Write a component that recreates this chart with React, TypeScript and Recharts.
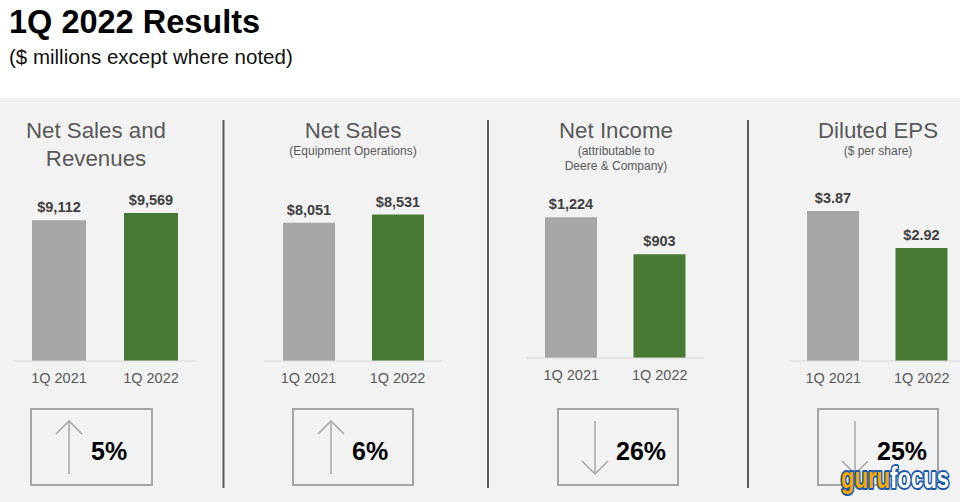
import React from 'react';
import { BarChart, Bar, XAxis, YAxis, Cell, LabelList } from 'recharts';

const periods = ['1Q 2021', '1Q 2022'];
const netSalesAndRevenues = [9112, 9569];
const netSalesEquipment = [8051, 8531];
const netIncome = [1224, 903];
const dilutedEps = [3.87, 2.92];
const changePct = ['5%', '6%', '26%', '25%'];
const changeDirection = ['up', 'up', 'down', 'down'];
const panelTitles = [['Net Sales and', 'Revenues'], ['Net Sales'], ['Net Income'], ['Diluted EPS']];
const panelSubtitles = [[], ['(Equipment Operations)'], ['(attributable to', 'Deere & Company)'], ['($ per share)']];

const FONT = '"Liberation Sans", Arial, Helvetica, sans-serif';
const GRAY = '#a6a6a6';
const GREEN = '#487a34';

type PanelCfg = {
  values: number[];
  fmt: (v: number) => string;
  left: number;
  width: number;
  baseline: number;
  domainMax: number;
  barSize: number;
};

const money = (v: number) => '$' + v.toLocaleString('en-US');
const eps = (v: number) => '$' + v.toFixed(2);

const PLOT_H = 160;
const TOP_M = 40;
const AXIS_H = 30;

const panels: PanelCfg[] = [
  { values: netSalesAndRevenues, fmt: money, left: 13, width: 184, baseline: 361, domainMax: 10350, barSize: 54 },
  { values: netSalesEquipment, fmt: money, left: 264, width: 178, baseline: 361, domainMax: 9320, barSize: 52 },
  { values: netIncome, fmt: money, left: 527, width: 177, baseline: 357.5, domainMax: 1391, barSize: 52 },
  { values: dilutedEps, fmt: eps, left: 789, width: 177, baseline: 361, domainMax: 4.13, barSize: 52 },
];

const centers = [96, 353, 616, 878];
const boxes = [
  { x: 31, w: 121, arrowX: 69, textX: 91 },
  { x: 293, w: 120, arrowX: 331, textX: 352 },
  { x: 558, w: 120, arrowX: 595, textX: 616 },
  { x: 818, w: 120, arrowX: 855, textX: 877 },
];

function Panel({ cfg }: { cfg: PanelCfg }) {
  const data = periods.map((p, i) => ({ period: p, value: cfg.values[i] }));
  const top = cfg.baseline - PLOT_H - TOP_M;
  return (
    <div style={{ position: 'absolute', left: cfg.left, top, width: cfg.width, height: TOP_M + PLOT_H + AXIS_H }}>
      <BarChart
        width={cfg.width}
        height={TOP_M + PLOT_H + AXIS_H}
        data={data}
        margin={{ top: TOP_M, right: 0, bottom: 0, left: 0 }}
      >
        <XAxis
          dataKey="period"
          height={AXIS_H}
          axisLine={{ stroke: '#d9d9d9', strokeWidth: 1 }}
          tickLine={false}
          tickMargin={6}
          interval={0}
          tick={{ fill: '#595959', fontSize: 14.5, fontFamily: FONT }}
        />
        <YAxis hide domain={[0, cfg.domainMax]} />
        <Bar dataKey="value" barSize={cfg.barSize} isAnimationActive={false}>
          {data.map((d, i) => (
            <Cell key={d.period} fill={i === 0 ? GRAY : GREEN} />
          ))}
          <LabelList
            dataKey="value"
            position="top"
            offset={8}
            formatter={(v: any) => cfg.fmt(Number(v))}
            style={{ fontWeight: 700, fontSize: 14.5, fill: '#404040', fontFamily: FONT }}
          />
        </Bar>
      </BarChart>
    </div>
  );
}

export default function App() {
  return (
    <div style={{ position: 'absolute', left: 0, top: 0, width: 960, height: 502, overflow: 'hidden', background: '#ffffff', fontFamily: FONT }}>
      <div style={{ position: 'absolute', left: 0, top: 98, width: 960, height: 404, background: '#f2f2f2' }} />
      <svg width={960} height={502} style={{ position: 'absolute', left: 0, top: 0 }}>
        <text x={9} y={33} fontSize={32.5} fontWeight={700} fill="#000" fontFamily={FONT}>1Q 2022 Results</text>
        <text x={9} y={64} fontSize={20.5} fill="#111" fontFamily={FONT}>($ millions except where noted)</text>
        {[223.5, 488, 748].map((x) => (
          <line key={x} x1={x} x2={x} y1={120} y2={488} stroke="#5a5a5a" strokeWidth={2} />
        ))}
        {panelTitles.map((lines, i) =>
          lines.map((t, j) => (
            <text key={`t${i}${j}`} x={centers[i]} y={138.3 + j * 27.5} textAnchor="middle" fontSize={22.3} fill="#595959" fontFamily={FONT}>{t}</text>
          ))
        )}
        {panelSubtitles.map((lines, i) =>
          lines.map((t, j) => (
            <text key={`s${i}${j}`} x={centers[i]} y={155 + j * 14.5} textAnchor="middle" fontSize={12} fill="#595959" fontFamily={FONT}>{t}</text>
          ))
        )}
        {boxes.map((b, i) => {
          const up = changeDirection[i] === 'up';
          const y1 = 421;
          const y2 = 474;
          const tip = up ? y1 : y2;
          const wing = up ? tip + 13 : tip - 13;
          return (
            <g key={`b${i}`}>
              <rect x={b.x} y={409} width={b.w} height={76} fill="none" stroke={GRAY} strokeWidth={2} />
              <line x1={b.arrowX} x2={b.arrowX} y1={y1} y2={y2} stroke={GRAY} strokeWidth={1.5} />
              <polyline points={`${b.arrowX - 13},${wing} ${b.arrowX},${tip} ${b.arrowX + 13},${wing}`} fill="none" stroke={GRAY} strokeWidth={1.5} />
              <text x={b.textX} y={460} fontSize={25} fontWeight={700} fill="#000" fontFamily={FONT}>{changePct[i]}</text>
            </g>
          );
        })}
      </svg>
      {panels.map((p, i) => (
        <Panel key={i} cfg={p} />
      ))}
      <svg width={960} height={502} style={{ position: 'absolute', left: 0, top: 0, pointerEvents: 'none' }}>
        <text x={841} y={488} fontSize={30} fontWeight={700} fontFamily={FONT} textLength={108} lengthAdjust="spacingAndGlyphs" style={{ paintOrder: 'stroke' }} stroke="#1f5aa6" strokeWidth={4} strokeLinejoin="round">
          <tspan fill="#f5a800">guru</tspan>
          <tspan fill="#ffffff">focus</tspan>
        </text>
      </svg>
    </div>
  );
}
